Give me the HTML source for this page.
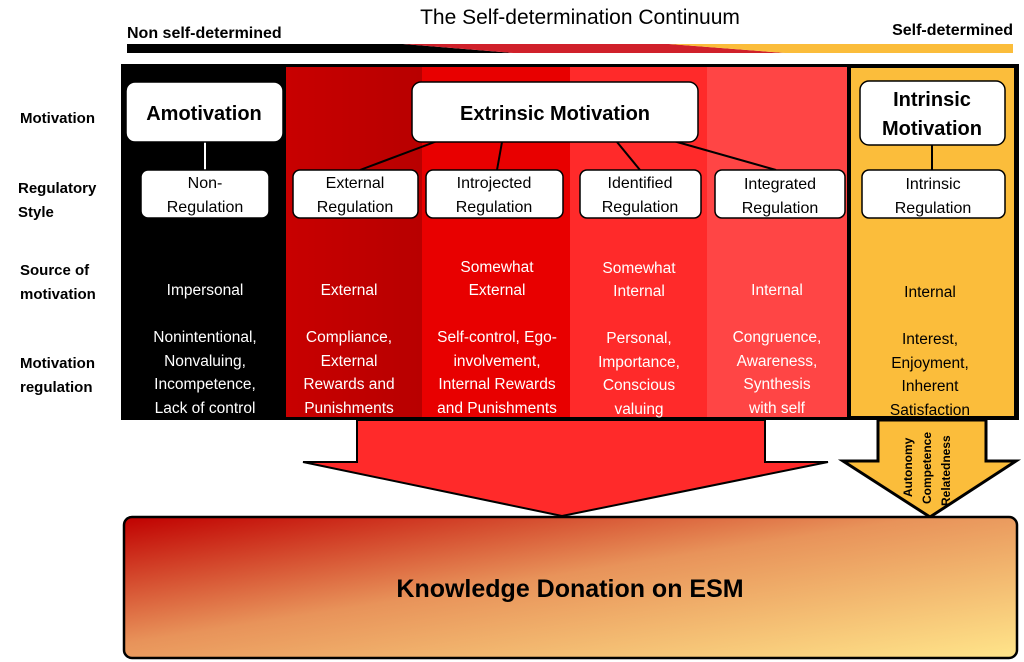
<!DOCTYPE html>
<html><head><meta charset="utf-8"><style>
html,body{margin:0;padding:0;background:#fff;}
svg{display:block;font-family:"Liberation Sans",sans-serif;}
</style></head><body>
<svg width="1024" height="662" viewBox="0 0 1024 662" xmlns="http://www.w3.org/2000/svg">
<defs>
<linearGradient id="bot" x1="0" y1="0" x2="1" y2="1">
<stop offset="0" stop-color="#c00000"/><stop offset="0.45" stop-color="#e8935a"/><stop offset="1" stop-color="#ffe58a"/>
</linearGradient>
<linearGradient id="c1" x1="0" y1="0" x2="1" y2="0">
<stop offset="0" stop-color="#c80000"/><stop offset="1" stop-color="#b80000"/>
</linearGradient>
</defs>
<text x="580" y="24" text-anchor="middle" font-size="21" fill="#000">The Self-determination Continuum</text>
<text x="127" y="38" font-size="16" font-weight="bold">Non self-determined</text>
<text x="1013" y="35" text-anchor="end" font-size="16" font-weight="bold">Self-determined</text>
<!-- continuum bar -->
<polygon points="127,44 403,44 513,53 127,53" fill="#000"/>
<polygon points="403,44 669,44 785,53 513,53" fill="#d0202a"/>
<polygon points="669,44 1013,44 1013,53 785,53" fill="#fbbd3b"/>
<!-- main -->
<rect x="121" y="64" width="898" height="356" fill="#000"/>
<rect x="124" y="67" width="162" height="350" fill="#000"/>
<rect x="286" y="67" width="136" height="350" fill="url(#c1)"/>
<rect x="422" y="67" width="148" height="350" fill="#e80000"/>
<rect x="570" y="67" width="137" height="350" fill="#ff2a2a"/>
<rect x="707" y="67" width="140" height="350" fill="#ff4545"/>
<rect x="849" y="66" width="167" height="352" fill="#fbbd3b" stroke="#000" stroke-width="4"/>
<!-- connectors -->
<line x1="205" y1="142" x2="205" y2="170" stroke="#fff" stroke-width="2"/>
<g stroke="#000" stroke-width="2">
<line x1="440" y1="140" x2="360" y2="170"/>
<line x1="502" y1="142" x2="497" y2="170"/>
<line x1="617" y1="142" x2="640" y2="170"/>
<line x1="670" y1="140" x2="776" y2="170"/>
<line x1="932" y1="145" x2="932" y2="170"/>
</g>
<g fill="#fff" stroke="#000" stroke-width="1.5">
<rect x="126" y="82" width="157" height="60" rx="9"/>
<rect x="412" y="82" width="286" height="60" rx="9"/>
<rect x="860" y="81" width="145" height="64" rx="9"/>
<rect x="141" y="170" width="128" height="48" rx="7"/>
<rect x="293" y="170" width="125" height="48" rx="7"/>
<rect x="426" y="170" width="137" height="48" rx="7"/>
<rect x="580" y="170" width="121" height="48" rx="7"/>
<rect x="715" y="170" width="130" height="48" rx="7"/>
<rect x="862" y="170" width="143" height="48" rx="7"/>
</g>
<g font-weight="bold" text-anchor="middle" font-size="20">
<text x="204" y="120">Amotivation</text>
<text x="555" y="120">Extrinsic Motivation</text>
<text x="932" y="106">Intrinsic</text>
<text x="932" y="135">Motivation</text>
</g>
<g text-anchor="middle" font-size="16">
<text x="205" y="188">Non-</text><text x="205" y="212">Regulation</text>
<text x="355" y="188">External</text><text x="355" y="212">Regulation</text>
<text x="494" y="188">Introjected</text><text x="494" y="212">Regulation</text>
<text x="640" y="188">Identified</text><text x="640" y="212">Regulation</text>
<text x="780" y="189">Integrated</text><text x="780" y="213">Regulation</text>
<text x="933" y="189">Intrinsic</text><text x="933" y="213">Regulation</text>
</g>
<g font-weight="bold" font-size="15">
<text x="20" y="123">Motivation</text>
<text x="18" y="193">Regulatory</text><text x="18" y="217">Style</text>
<text x="20" y="275">Source of</text><text x="20" y="299">motivation</text>
<text x="20" y="368">Motivation</text><text x="20" y="392">regulation</text>
</g>
<g text-anchor="middle" font-size="15.5" fill="#fff">
<text x="205" y="295">Impersonal</text>
<text x="349" y="295">External</text>
<text x="497" y="272">Somewhat</text><text x="497" y="295">External</text>
<text x="639" y="273">Somewhat</text><text x="639" y="296">Internal</text>
<text x="777" y="295">Internal</text>
<text x="205" y="342">Nonintentional,</text><text x="205" y="366">Nonvaluing,</text><text x="205" y="389">Incompetence,</text><text x="205" y="413">Lack of control</text>
<text x="349" y="342">Compliance,</text><text x="349" y="366">External</text><text x="349" y="389">Rewards and</text><text x="349" y="413">Punishments</text>
<text x="497" y="342">Self-control, Ego-</text><text x="497" y="366">involvement,</text><text x="497" y="389">Internal Rewards</text><text x="497" y="413">and Punishments</text>
<text x="639" y="343">Personal,</text><text x="639" y="367">Importance,</text><text x="639" y="390">Conscious</text><text x="639" y="414">valuing</text>
<text x="777" y="342">Congruence,</text><text x="777" y="366">Awareness,</text><text x="777" y="389">Synthesis</text><text x="777" y="413">with self</text>
</g>
<g text-anchor="middle" font-size="15.5" fill="#000">
<text x="930" y="297">Internal</text>
<text x="930" y="344">Interest,</text><text x="930" y="368">Enjoyment,</text><text x="930" y="391">Inherent</text><text x="930" y="415">Satisfaction</text>
</g>
<!-- arrows -->
<polygon points="357,420 765,420 765,462 828,462 562,516 303,462 357,462" fill="#ff2a2a" stroke="#000" stroke-width="2"/>
<polygon points="878,420 986,420 986,461 1016,461 930,517 843,461 878,461" fill="#fbbd3b" stroke="#000" stroke-width="3"/>
<g font-weight="bold" font-size="12" fill="#000">
<text transform="translate(912,497) rotate(-90)">Autonomy</text>
<text transform="translate(931,504) rotate(-90)">Competence</text>
<text transform="translate(950,506) rotate(-90)">Relatedness</text>
</g>
<rect x="124" y="517" width="893" height="141" rx="8" fill="url(#bot)" stroke="#000" stroke-width="2.5"/>
<text x="570" y="597" text-anchor="middle" font-size="25" font-weight="bold">Knowledge Donation on ESM</text>
</svg>
</body></html>
